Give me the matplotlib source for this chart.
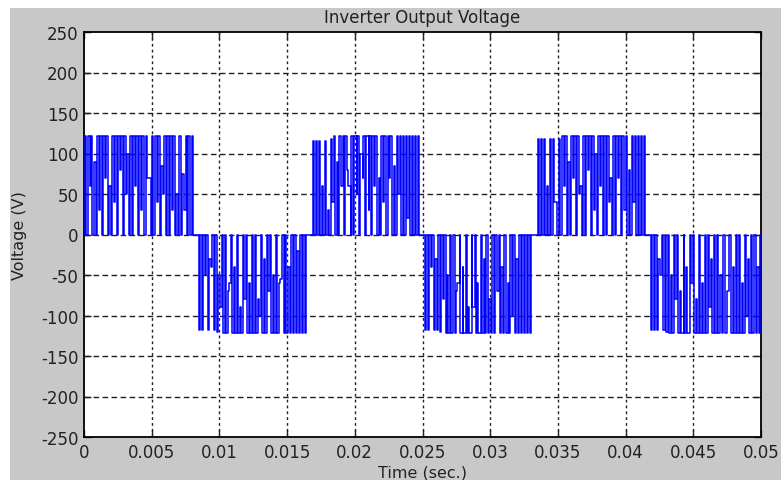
import matplotlib
matplotlib.use('Agg')
import matplotlib.pyplot as plt
from matplotlib.patches import Rectangle

###
# DADOS
###
# início/fim de cada semiciclo (s) e polaridade
semi_inicio = [0.0000, 0.00842, 0.01684, 0.02510, 0.03345, 0.04180]
semi_fim = [0.00810, 0.01647, 0.02480, 0.03310, 0.04150, 0.05000]
semi_sinal = [1, -1, 1, -1, 1, -1]

# largura relativa de cada pulso (36 pulsos por semiciclo)
duty_1 = [0.60, 0.70, 0.50, 0.65, 0.55, 0.70, 0.60, 0.75, 0.50, 0.70, 0.65, 0.80,
          0.55, 0.75, 0.70, 0.80, 0.60, 0.75, 0.70, 0.65, 0.55, 0.70, 0.50, 0.60,
          0.65, 0.55, 0.60, 0.50, 0.55, 0.45, 0.55, 0.40, 0.50, 0.35, 0.45, 0.40]
duty_2 = [0.35, 0.40, 0.30, 0.50, 0.45, 0.55, 0.50, 0.60, 0.65, 0.55, 0.70, 0.60,
          0.75, 0.65, 0.80, 0.70, 0.75, 0.60, 0.70, 0.65, 0.75, 0.60, 0.55, 0.65,
          0.70, 0.60, 0.65, 0.55, 0.50, 0.55, 0.45, 0.50, 0.40, 0.45, 0.40, 0.35]
duty_3 = [0.30, 0.35, 0.30, 0.45, 0.40, 0.50, 0.45, 0.55, 0.60, 0.65, 0.55, 0.70,
          0.75, 0.65, 0.80, 0.70, 0.75, 0.65, 0.80, 0.70, 0.60, 0.70, 0.55, 0.60,
          0.65, 0.55, 0.60, 0.50, 0.55, 0.45, 0.50, 0.40, 0.45, 0.35, 0.40, 0.30]
duty_4 = [0.35, 0.40, 0.45, 0.40, 0.50, 0.55, 0.60, 0.55, 0.65, 0.70, 0.60, 0.75,
          0.70, 0.80, 0.65, 0.75, 0.70, 0.60, 0.70, 0.65, 0.60, 0.55, 0.60, 0.50,
          0.65, 0.60, 0.55, 0.60, 0.55, 0.45, 0.50, 0.40, 0.45, 0.35, 0.40, 0.35]
duty_5 = [0.30, 0.35, 0.40, 0.30, 0.45, 0.50, 0.45, 0.55, 0.60, 0.65, 0.60, 0.70,
          0.75, 0.70, 0.80, 0.75, 0.70, 0.80, 0.65, 0.70, 0.60, 0.65, 0.55, 0.60,
          0.70, 0.60, 0.55, 0.60, 0.50, 0.45, 0.50, 0.40, 0.45, 0.35, 0.40, 0.30]
duty_6 = [0.35, 0.40, 0.45, 0.50, 0.45, 0.55, 0.60, 0.65, 0.60, 0.70, 0.75, 0.65,
          0.80, 0.70, 0.75, 0.65, 0.70, 0.80, 0.60, 0.70, 0.65, 0.55, 0.60, 0.50,
          0.65, 0.55, 0.60, 0.55, 0.60, 0.50, 0.55, 0.45, 0.50, 0.55, 0.45, 0.50]

# amplitude do topo de cada pulso (V)
topo_1 = [122, 122, 122, 90, 122, 122, 122, 122, 60, 122, 122, 122,
          122, 122, 100, 122, 122, 122, 122, 122, 122, 70, 122, 122,
          122, 85, 122, 122, 122, 122, 50, 122, 75, 122, 122, 122]
topo_2 = [118, 118, 50, 118, 40, 118, 120, 90, 122, 122, 60, 122,
          122, 122, 122, 80, 122, 122, 122, 122, 100, 122, 122, 70,
          122, 122, 122, 55, 122, 122, 122, 122, 122, 122, 122, 122]
topo_3 = [115, 115, 115, 60, 115, 30, 118, 122, 90, 122, 122, 122,
          60, 122, 122, 122, 100, 122, 122, 122, 122, 122, 70, 122,
          122, 122, 122, 85, 122, 122, 122, 122, 122, 122, 122, 122]
topo_4 = [118, 118, 40, 118, 118, 120, 80, 122, 122, 122, 122, 60,
          122, 122, 122, 122, 90, 122, 122, 122, 122, 122, 122, 122,
          70, 122, 122, 122, 122, 100, 122, 122, 122, 122, 122, 122]
topo_5 = [118, 118, 118, 60, 118, 118, 40, 118, 122, 122, 90, 122,
          122, 122, 60, 122, 122, 122, 122, 100, 122, 122, 122, 122,
          70, 122, 122, 122, 122, 122, 80, 122, 122, 122, 122, 122]
topo_6 = [118, 118, 118, 50, 118, 120, 122, 122, 80, 122, 122, 122,
          122, 60, 122, 122, 122, 122, 122, 90, 122, 122, 122, 122,
          122, 70, 122, 122, 122, 122, 122, 100, 122, 122, 122, 122]

# nível mínimo entre um pulso e o seguinte (V)
fundo_1 = [0, 60, 0, 0, 30, 0, 70, 0, 0, 40, 0, 80, 0, 50, 0, 0, 60, 0,
           30, 0, 70, 0, 0, 40, 0, 50, 0, 0, 30, 0, 0, 0, 30, 0, 0, 0]
fundo_2 = [0, 0, 0, 30, 0, 0, 50, 0, 0, 70, 0, 40, 0, 90, 0, 0, 60, 0,
           0, 80, 0, 30, 0, 0, 50, 0, 60, 0, 0, 40, 0, 0, 20, 0, 0, 0]
fundo_3 = [0, 0, 0, 0, 0, 0, 40, 0, 0, 60, 0, 80, 0, 0, 50, 0, 70, 0,
           30, 0, 60, 0, 0, 40, 0, 70, 0, 0, 50, 0, 0, 20, 0, 0, 0, 0]
fundo_4 = [0, 0, 0, 30, 0, 0, 0, 50, 0, 0, 70, 0, 40, 0, 90, 0, 0, 60,
           0, 30, 0, 80, 0, 0, 0, 40, 0, 60, 0, 0, 30, 0, 0, 0, 0, 0]
fundo_5 = [0, 0, 0, 0, 0, 40, 0, 0, 60, 0, 0, 70, 0, 50, 0, 0, 80, 0,
           30, 0, 60, 0, 0, 40, 0, 0, 70, 0, 30, 0, 0, 40, 0, 0, 0, 0]
fundo_6 = [0, 0, 30, 0, 0, 0, 50, 0, 0, 70, 0, 40, 0, 0, 80, 0, 60, 0,
           0, 30, 0, 0, 50, 0, 70, 0, 40, 0, 0, 60, 0, 30, 0, 0, 40, 0]

x_ticks = [0, 0.005, 0.01, 0.015, 0.02, 0.025, 0.03, 0.035, 0.04, 0.045, 0.05]
x_rotulos = ['0', '0.005', '0.01', '0.015', '0.02', '0.025', '0.03', '0.035',
             '0.04', '0.045', '0.05']
y_ticks = [-250, -200, -150, -100, -50, 0, 50, 100, 150, 200, 250]
y_rotulos = ['-250', '-200', '-150', '-100', '-50', '0', '50', '100', '150', '200', '250']

###
# MONTA A FORMA DE ONDA (pulsos a partir dos dados acima)
###
duties = [duty_1, duty_2, duty_3, duty_4, duty_5, duty_6]
topos = [topo_1, topo_2, topo_3, topo_4, topo_5, topo_6]
fundos = [fundo_1, fundo_2, fundo_3, fundo_4, fundo_5, fundo_6]

t_pts, v_pts = [], []
for ini, fim, sinal, duty, topo, fundo in zip(semi_inicio, semi_fim, semi_sinal,
                                                duties, topos, fundos):
    n = len(duty)
    tc = (fim - ini) / n
    t_pts.append(ini)
    v_pts.append(0)
    anterior = 0
    for j in range(n):
        c = ini + (j + 0.5) * tc
        w = duty[j] * tc / 2
        t_pts += [c - w, c - w, c + w, c + w]
        v_pts += [sinal * anterior, sinal * topo[j], sinal * topo[j], sinal * fundo[j]]
        anterior = fundo[j]
    t_pts.append(fim)
    v_pts.append(0)

###
# FIGURA
###
plt.rcParams['font.family'] = 'DejaVu Sans'
fig = plt.figure(figsize=(7.81, 4.81), dpi=100, facecolor='white')
fundo_cinza = Rectangle((10 / 781, 0), 1, 1 - 9 / 481, transform=fig.transFigure,
                        facecolor='#c8c8c8', edgecolor='none', zorder=-10)
fig.patches.append(fundo_cinza)

ax = fig.add_axes([84 / 781, 1 - 438 / 481, 677 / 781, 405 / 481])
ax.set_zorder(1)
ax.set_facecolor('white')
ax.plot(t_pts, v_pts, color='#0000ff', lw=1.1, zorder=3)

ax.set_xlim(0, 0.05)
ax.set_ylim(-250, 250)
ax.set_xticks(x_ticks)
ax.set_xticklabels(x_rotulos)
ax.set_yticks(y_ticks)
ax.set_yticklabels(y_rotulos)

# grade tracejada estilo MATLAB
for x in x_ticks[1:-1]:
    ax.axvline(x, color='#202020', lw=1.0, ls=(0, (2, 2.2)), zorder=2)
for y in y_ticks[1:-1]:
    ax.axhline(y, color='#202020', lw=1.0, ls=(0, (4, 2.5)), zorder=2)

ax.tick_params(direction='in', length=5, width=1, top=True, right=True,
               labelsize=12, colors='#222222', pad=4)
for sp in ax.spines.values():
    sp.set_linewidth(1.3)
    sp.set_color('black')

ax.set_title('Inverter Output Voltage', fontsize=12, color='#222222', pad=7)
ax.set_xlabel('Time (sec.)', fontsize=11.5, color='#222222', labelpad=3)
ax.set_ylabel('Voltage (V)', fontsize=11.5, color='#222222', labelpad=10)

fig.savefig('out.png', dpi=100, facecolor=fig.get_facecolor())
